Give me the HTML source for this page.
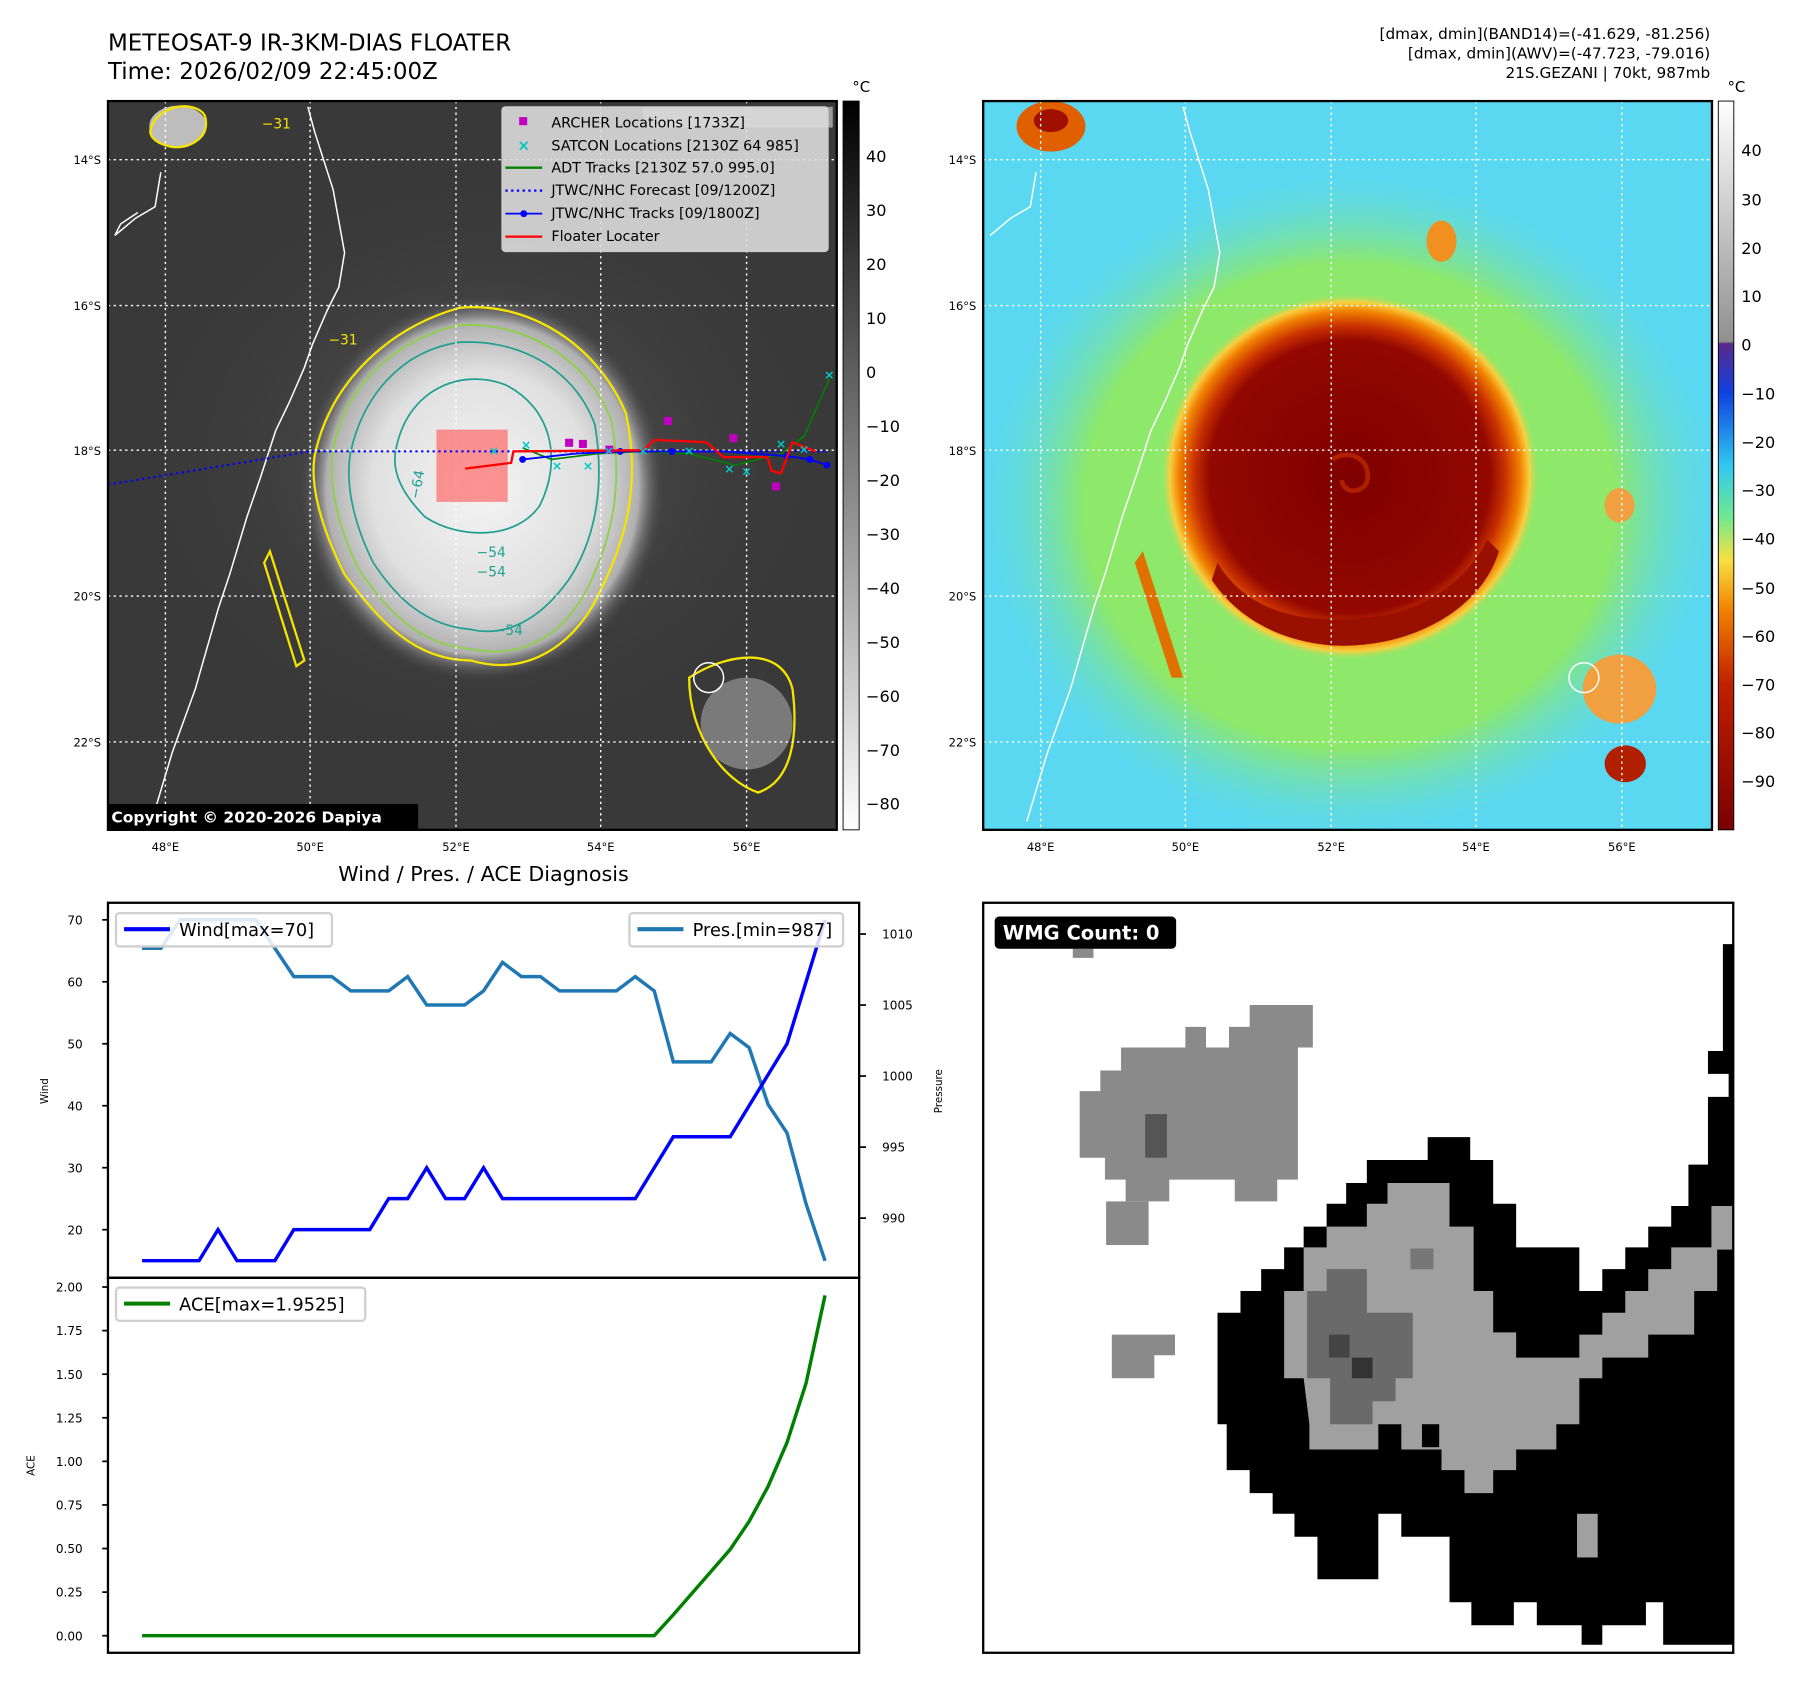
<!DOCTYPE html>
<html><head><meta charset="utf-8"><style>
html,body{margin:0;padding:0;background:#fff}
svg{display:block}
text{font-family:"DejaVu Sans","Liberation Sans",sans-serif}
</style></head><body>
<svg id="root" width="1801" height="1690" viewBox="0 0 1568 1471.4" preserveAspectRatio="none" xmlns="http://www.w3.org/2000/svg">
<defs>
<radialGradient id="cloud" cx="0.5" cy="0.5" r="0.5">
<stop offset="0" stop-color="#f4f4f4"/><stop offset="0.6" stop-color="#e0e0e0"/><stop offset="0.85" stop-color="#b0b0b0"/><stop offset="1" stop-color="#3a3a3a" stop-opacity="0"/></radialGradient>
<radialGradient id="haze" cx="0.5" cy="0.5" r="0.5">
<stop offset="0" stop-color="#5e5e5e"/><stop offset="1" stop-color="#3a3a3a" stop-opacity="0"/></radialGradient>
<radialGradient id="core" cx="0.5" cy="0.5" r="0.5">
<stop offset="0" stop-color="#7e0000"/><stop offset="0.74" stop-color="#930800"/><stop offset="0.82" stop-color="#c83000"/><stop offset="0.9" stop-color="#f08000"/><stop offset="0.95" stop-color="#f8d040"/><stop offset="1" stop-color="#90e870" stop-opacity="0"/></radialGradient>
<radialGradient id="ring" cx="0.5" cy="0.5" r="0.5">
<stop offset="0" stop-color="#8ee86a"/><stop offset="0.7" stop-color="#8ee86a"/><stop offset="1" stop-color="#5ad8f2" stop-opacity="0"/></radialGradient>
<linearGradient id="cb1" x1="0" y1="0" x2="0" y2="1"><stop offset="0" stop-color="#000"/><stop offset="1" stop-color="#fff"/></linearGradient>
<linearGradient id="cb2" x1="0" y1="0" x2="0" y2="1">
<stop offset="0" stop-color="#ffffff"/><stop offset="0.33" stop-color="#909090"/><stop offset="0.333" stop-color="#5a2a8a"/><stop offset="0.4" stop-color="#1040e0"/><stop offset="0.5" stop-color="#30c8f0"/><stop offset="0.57" stop-color="#70e890"/><stop offset="0.63" stop-color="#f8e040"/><stop offset="0.7" stop-color="#f08000"/><stop offset="0.8" stop-color="#c02000"/><stop offset="1" stop-color="#7a0000"/></linearGradient>
<clipPath id="clipTL"><rect x="94" y="88" width="634.5" height="634.5"/></clipPath>
<clipPath id="clipTR"><rect x="856" y="88" width="634.5" height="634.5"/></clipPath>
</defs>

<text x="94" y="44" font-size="20">METEOSAT-9 IR-3KM-DIAS FLOATER</text>
<text x="94" y="69" font-size="20">Time: 2026/02/09 22:45:00Z</text>
<g font-size="13.3" text-anchor="end">
<text x="1489" y="34">[dmax, dmin](BAND14)=(-41.629, -81.256)</text>
<text x="1489" y="51">[dmax, dmin](AWV)=(-47.723, -79.016)</text>
<text x="1489" y="68">21S.GEZANI | 70kt, 987mb</text>
</g>

<g clip-path="url(#clipTL)">
<rect x="94" y="88" width="634.5" height="634.5" fill="#393939"/>
<ellipse cx="420" cy="400" rx="300" ry="250" fill="url(#haze)"/>
<ellipse cx="420" cy="425" rx="160" ry="170" fill="url(#cloud)"/>
<ellipse cx="155" cy="110" rx="25" ry="18" fill="#bdbdbd"/>
<ellipse cx="650" cy="630" rx="40" ry="40" fill="#7a7a7a"/>
<path d="M275,392 C290,330 340,285 400,268 C460,262 520,300 545,360 C560,430 540,480 520,520 C500,560 460,590 410,575 C360,575 330,540 300,500 C280,460 268,420 275,392 Z M235,480 L265,575 L258,580 L230,490 Z" fill="none" stroke="#f5e400" stroke-width="2"/>
<path d="M290,392 C300,335 345,295 400,283 C455,280 510,310 532,365 C545,430 528,480 510,515 C490,552 455,575 410,565 C365,562 335,530 312,495 C295,460 285,420 290,392 Z" fill="none" stroke="#8ed04a" stroke-width="1.6"/>
<path d="M305,395 C315,345 350,305 400,298 C450,295 500,320 518,370 C528,430 515,475 495,505 C470,540 440,555 410,548 C370,545 345,520 325,490 C310,460 300,425 305,395 Z M345,390 C355,340 400,320 440,335 C480,355 490,400 470,440 C450,470 400,470 370,450 C350,430 340,410 345,390 Z" fill="none" stroke="#20a090" stroke-width="1.5"/>
<path d="M132,110 C140,90 170,88 178,100 C184,115 170,130 150,128 C135,125 128,118 132,110 Z M600,590 C630,570 680,560 690,600 C695,640 690,680 660,690 C630,680 600,640 600,590 Z" fill="none" stroke="#f5e400" stroke-width="2"/>
<path d="M268,93 L274,115 L290,165 L300,220 L295,250 L285,270 L272,300 L265,320 L252,350 L240,375 L227,415 L215,450 L200,500 L190,530 L170,600 L150,655 L132,715 M140,150 L135,180 L118,190 L100,205 L105,195 L120,185" fill="none" stroke="#fff" stroke-width="1.3"/>
<circle cx="617" cy="590" r="13" fill="none" stroke="#fff" stroke-width="1.3"/>
<g stroke="#fff" stroke-width="1.2" stroke-dasharray="2,3">
<line x1="144" y1="88" x2="144" y2="723"/><line x1="270" y1="88" x2="270" y2="723"/><line x1="397" y1="88" x2="397" y2="723"/><line x1="523" y1="88" x2="523" y2="723"/><line x1="650" y1="88" x2="650" y2="723"/>
<line x1="94" y1="139" x2="728" y2="139"/><line x1="94" y1="266" x2="728" y2="266"/><line x1="94" y1="392" x2="728" y2="392"/><line x1="94" y1="519" x2="728" y2="519"/><line x1="94" y1="646" x2="728" y2="646"/>
</g>
<rect x="380" y="374" width="62" height="63" fill="#ff6060" fill-opacity="0.65"/>
<polyline points="94,422 270,393 720,393" fill="none" stroke="#0000ff" stroke-width="1.8" stroke-dasharray="2,3"/>
<polyline points="455,390 480,400 520,395 560,393 600,395 640,405 680,395 700,380 722,330" fill="none" stroke="#008000" stroke-width="1.4"/>
<polyline points="455,400 500,395 540,393 585,393 630,393 685,397 705,400 720,405" fill="none" stroke="#0000ff" stroke-width="1.6"/>
<g fill="#0000ff"><circle cx="455" cy="400" r="3"/><circle cx="540" cy="393" r="3"/><circle cx="585" cy="393" r="3"/><circle cx="685" cy="397" r="3"/><circle cx="705" cy="400" r="3"/><circle cx="720" cy="405" r="3"/></g>
<polyline points="405,408 445,403 447,393 560,392 570,383 615,385 630,398 668,398 672,410 680,412 690,385 710,393" fill="none" stroke="#ff0000" stroke-width="2"/>
<g fill="#c000c0"><rect x="492" y="382" width="7" height="7"/><rect x="504" y="383" width="7" height="7"/><rect x="578" y="363" width="7" height="7"/><rect x="527" y="388" width="7" height="7"/><rect x="635" y="378" width="7" height="7"/><rect x="672" y="420" width="7" height="7"/></g>
<g fill="#00c8c8" font-size="11" font-weight="bold" text-anchor="middle"><text x="430" y="396">×</text><text x="458" y="391">×</text><text x="485" y="409">×</text><text x="512" y="409">×</text><text x="530" y="396">×</text><text x="560" y="396">×</text><text x="600" y="396">×</text><text x="635" y="412">×</text><text x="650" y="414">×</text><text x="680" y="390">×</text><text x="700" y="395">×</text><text x="722" y="330">×</text></g>
<g font-size="12"><text x="228" y="112" fill="#f5e400">−31</text><text x="286" y="300" fill="#f5e400">−31</text><text x="415" y="485" fill="#20a090">−54</text><text x="415" y="502" fill="#20a090">−54</text><text x="430" y="553" fill="#20a090">−54</text><text x="365" y="435" fill="#20a090" transform="rotate(-80 365 435)">−64</text></g>
<rect x="560" y="93" width="165" height="18" fill="#fff" fill-opacity="0.5"/>
</g>
<rect x="94" y="88" width="634.5" height="634.5" fill="none" stroke="#000" stroke-width="2"/>
<g>
<rect x="437" y="93" width="284" height="126" rx="3" fill="#dcdcdc" fill-opacity="0.9" stroke="#ccc"/>
<g font-size="12.5">
<rect x="452" y="102" width="7" height="7" fill="#c000c0"/><text x="480" y="111">ARCHER Locations [1733Z]</text>
<text x="456" y="131" fill="#00c8c8" font-size="13" font-weight="bold" text-anchor="middle">×</text><text x="480" y="131">SATCON Locations [2130Z 64 985]</text>
<line x1="440" y1="146" x2="472" y2="146" stroke="#008000" stroke-width="2"/><text x="480" y="150">ADT Tracks [2130Z 57.0 995.0]</text>
<line x1="440" y1="166" x2="472" y2="166" stroke="#0000ff" stroke-width="2" stroke-dasharray="2,3"/><text x="480" y="170">JTWC/NHC Forecast [09/1200Z]</text>
<line x1="440" y1="186" x2="472" y2="186" stroke="#0000ff" stroke-width="1.6"/><circle cx="456" cy="186" r="3" fill="#0000ff"/><text x="480" y="190">JTWC/NHC Tracks [09/1800Z]</text>
<line x1="440" y1="206" x2="472" y2="206" stroke="#ff0000" stroke-width="2"/><text x="480" y="210">Floater Locater</text>
</g></g>
<g><rect x="94" y="700" width="270" height="22" fill="#000"/><text x="97" y="716" font-size="13.5" font-weight="bold" fill="#fff">Copyright © 2020-2026 Dapiya</text></g>

<g font-size="10" fill="#000">
<text x="144" y="741" text-anchor="middle">48°E</text><text x="270" y="741" text-anchor="middle">50°E</text><text x="397" y="741" text-anchor="middle">52°E</text><text x="523" y="741" text-anchor="middle">54°E</text><text x="650" y="741" text-anchor="middle">56°E</text>
<text x="88" y="143" text-anchor="end">14°S</text><text x="88" y="270" text-anchor="end">16°S</text><text x="88" y="396" text-anchor="end">18°S</text><text x="88" y="523" text-anchor="end">20°S</text><text x="88" y="650" text-anchor="end">22°S</text>
</g>
<g>
<rect x="734" y="88" width="14" height="634.5" fill="url(#cb1)" stroke="#000" stroke-width="0.8"/>
<text x="742" y="80" font-size="13">°C</text>
<g font-size="14"><text x="754" y="141">40</text><text x="754" y="188">30</text><text x="754" y="235">20</text><text x="754" y="282">10</text><text x="754" y="329">0</text><text x="754" y="376">−10</text><text x="754" y="423">−20</text><text x="754" y="470">−30</text><text x="754" y="517">−40</text><text x="754" y="564">−50</text><text x="754" y="611">−60</text><text x="754" y="658">−70</text><text x="754" y="705">−80</text></g>
</g>

<g clip-path="url(#clipTR)">
<rect x="856" y="88" width="634.5" height="634.5" fill="#5ad8f2"/>
<ellipse cx="1175" cy="440" rx="330" ry="300" fill="url(#ring)"/>
<ellipse cx="1175" cy="415" rx="165" ry="160" fill="url(#core)"/>
<path d="M1060,490 C1090,540 1150,545 1210,535 C1250,525 1280,500 1295,470 L1305,480 C1290,530 1230,565 1160,562 C1110,558 1075,535 1055,505 Z" fill="#9a1000"/>
<path d="M1160,400 C1175,390 1195,400 1190,420 C1185,430 1170,430 1168,418" fill="none" stroke="#b02000" stroke-width="4"/>
<path d="M995,480 L1030,590 L1020,590 L988,490 Z" fill="#e07000"/>
<ellipse cx="915" cy="110" rx="30" ry="22" fill="#e06000"/><ellipse cx="915" cy="105" rx="15" ry="10" fill="#a01000"/>
<ellipse cx="1410" cy="600" rx="32" ry="30" fill="#f0a040"/><ellipse cx="1415" cy="665" rx="18" ry="16" fill="#b02000"/>
<ellipse cx="1255" cy="210" rx="13" ry="18" fill="#f09020"/>
<ellipse cx="1410" cy="440" rx="13" ry="15" fill="#f0a040"/>
<path d="M1030,93 L1036,115 L1052,165 L1062,220 L1057,250 L1047,270 L1034,300 L1027,320 L1014,350 L1002,375 L989,415 L977,450 L962,500 L952,530 L932,600 L912,655 L894,715 M902,150 L897,180 L880,190 L862,205" fill="none" stroke="#fff" stroke-width="1.3"/>
<circle cx="1379" cy="590" r="13" fill="none" stroke="#fff" stroke-width="1.3"/>
<g stroke="#fff" stroke-width="1.2" stroke-dasharray="2,3">
<line x1="906" y1="88" x2="906" y2="723"/><line x1="1032" y1="88" x2="1032" y2="723"/><line x1="1159" y1="88" x2="1159" y2="723"/><line x1="1285" y1="88" x2="1285" y2="723"/><line x1="1412" y1="88" x2="1412" y2="723"/>
<line x1="856" y1="139" x2="1490" y2="139"/><line x1="856" y1="266" x2="1490" y2="266"/><line x1="856" y1="392" x2="1490" y2="392"/><line x1="856" y1="519" x2="1490" y2="519"/><line x1="856" y1="646" x2="1490" y2="646"/>
</g>
</g>
<rect x="856" y="88" width="634.5" height="634.5" fill="none" stroke="#000" stroke-width="2"/>
<g font-size="10" fill="#000">
<text x="906" y="741" text-anchor="middle">48°E</text><text x="1032" y="741" text-anchor="middle">50°E</text><text x="1159" y="741" text-anchor="middle">52°E</text><text x="1285" y="741" text-anchor="middle">54°E</text><text x="1412" y="741" text-anchor="middle">56°E</text>
<text x="850" y="143" text-anchor="end">14°S</text><text x="850" y="270" text-anchor="end">16°S</text><text x="850" y="396" text-anchor="end">18°S</text><text x="850" y="523" text-anchor="end">20°S</text><text x="850" y="650" text-anchor="end">22°S</text>
</g>
<g>
<rect x="1496" y="88" width="13.5" height="634.5" fill="url(#cb2)" stroke="#000" stroke-width="0.8"/>
<text x="1504" y="80" font-size="13">°C</text>
<g font-size="14"><text x="1516" y="136">40</text><text x="1516" y="179">30</text><text x="1516" y="221">20</text><text x="1516" y="263">10</text><text x="1516" y="305">0</text><text x="1516" y="348">−10</text><text x="1516" y="390">−20</text><text x="1516" y="432">−30</text><text x="1516" y="474">−40</text><text x="1516" y="517">−50</text><text x="1516" y="559">−60</text><text x="1516" y="601">−70</text><text x="1516" y="643">−80</text><text x="1516" y="685">−90</text></g>
</g>

<text x="421" y="767" font-size="18" text-anchor="middle">Wind / Pres. / ACE Diagnosis</text>
<g id="chart"></g>

<g>
<rect x="856" y="786" width="653" height="653" fill="#fff"/>
<path fill="#000" d="M1243,990 L1280,990 L1280,1010 L1300,1010 L1300,1048 L1320,1048 L1320,1086 L1375,1086 L1375,1124 L1395,1124 L1395,1105 L1415,1105 L1415,1086 L1435,1086 L1435,1068 L1455,1068 L1455,1050 L1470,1050 L1470,1014 L1487,1014 L1487,955 L1505,955 L1505,935 L1487,935 L1487,915 L1500,915 L1500,822 L1509,822 L1509,1432 L1448,1432 L1448,1395 L1433,1395 L1433,1415 L1395,1415 L1395,1432 L1377,1432 L1377,1415 L1338,1415 L1338,1395 L1318,1395 L1318,1415 L1281,1415 L1281,1395 L1262,1395 L1262,1338 L1220,1338 L1220,1318 L1200,1318 L1200,1375 L1147,1375 L1147,1338 L1127,1338 L1127,1318 L1108,1318 L1108,1300 L1088,1300 L1088,1280 L1068,1280 L1068,1240 L1060,1240 L1060,1143 L1080,1143 L1080,1124 L1098,1124 L1098,1105 L1118,1105 L1118,1086 L1135,1086 L1135,1068 L1155,1068 L1155,1048 L1172,1048 L1172,1030 L1190,1030 L1190,1010 L1243,1010 Z"/>
<path fill="#a0a0a0" d="M1208,1030 L1262,1030 L1262,1068 L1283,1068 L1283,1124 L1300,1124 L1300,1160 L1320,1160 L1320,1182 L1375,1182 L1375,1162 L1395,1162 L1395,1143 L1415,1143 L1415,1124 L1435,1124 L1435,1105 L1455,1105 L1455,1086 L1490,1086 L1490,1050 L1509,1050 L1509,1088 L1495,1088 L1495,1124 L1475,1124 L1475,1162 L1435,1162 L1435,1182 L1395,1182 L1395,1200 L1375,1200 L1375,1240 L1355,1240 L1355,1262 L1320,1262 L1320,1280 L1300,1280 L1300,1300 L1275,1300 L1275,1280 L1255,1280 L1255,1262 L1220,1262 L1220,1240 L1200,1240 L1200,1262 L1140,1262 L1140,1240 L1135,1200 L1118,1200 L1118,1124 L1135,1124 L1135,1086 L1155,1086 L1155,1068 L1190,1068 L1190,1048 L1208,1048 Z"/>
<path fill="#6a6a6a" d="M1155,1105 L1190,1105 L1190,1143 L1230,1143 L1230,1200 L1215,1200 L1215,1220 L1195,1220 L1195,1240 L1158,1240 L1158,1200 L1138,1200 L1138,1124 L1155,1124 Z"/>
<rect x="1157" y="1162" width="18" height="20" fill="#444"/><rect x="1177" y="1182" width="18" height="18" fill="#333"/>
<rect x="1228" y="1087" width="20" height="18" fill="#777"/><rect x="1238" y="1240" width="15" height="20" fill="#000"/>
<rect x="1373" y="1318" width="18" height="38" fill="#a0a0a0"/>
<path fill="#8a8a8a" d="M1088,875 L1143,875 L1143,912 L1130,912 L1130,1027 L1112,1027 L1112,1046 L1075,1046 L1075,1027 L1018,1027 L1018,1046 L980,1046 L980,1027 L962,1027 L962,1008 L940,1008 L940,950 L958,950 L958,932 L976,932 L976,912 L1032,912 L1032,894 L1050,894 L1050,912 L1070,912 L1070,894 L1088,894 Z"/>
<rect x="997" y="970" width="19" height="38" fill="#555"/>
<rect x="963" y="1046" width="37" height="38" fill="#8a8a8a"/>
<path fill="#8a8a8a" d="M968,1162 L1023,1162 L1023,1180 L1005,1180 L1005,1200 L968,1200 Z"/>
<rect x="934" y="826" width="18" height="8" fill="#8a8a8a"/>
<rect x="856" y="786" width="653" height="653" fill="none" stroke="#000" stroke-width="2"/>
<rect x="866" y="798" width="158" height="28" rx="4" fill="#000"/>
<text x="873" y="818" font-size="17" font-weight="bold" fill="#fff">WMG Count: 0</text>
</g>
</svg>
<script>
const wind = [15,15,15,15,20,15,15,15,20,20,20,20,20,25,25,30,25,25,30,25,25,25,25,25,25,25,25,30,35,35,35,35,40,45,50,60,70];
const pres = [1009,1009,1011,1011,1011,1011,1011,1009,1007,1007,1007,1006,1006,1006,1007,1005,1005,1005,1006,1008,1007,1007,1006,1006,1006,1006,1007,1006,1001,1001,1001,1003,1002,998,996,991,987];
const ace = [0,0,0,0,0,0,0,0,0,0,0,0,0,0,0,0,0,0,0,0,0,0,0,0,0,0,0,0,0.12,0.245,0.37,0.495,0.655,0.856,1.108,1.449,1.9525];
const windTicks = [20,30,40,50,60,70];
const presTicks = [990,995,1000,1005,1010];
const aceTicks = ["0.00","0.25","0.50","0.75","1.00","1.25","1.50","1.75","2.00"];

const NS='http://www.w3.org/2000/svg';
const g=document.getElementById('chart');
const L=94,R=748,T1=786,B1=1112.5,T2=1112.5,B2=1439;
const n=wind.length;
function xs(i){return L+(i+1.8)/(n-1+3.6)*(R-L);}
function yWind(v){return T1+(72.75-v)/60.51*(B1-T1);}
function yPres(p){return T1+(1012.2-p)/26.4*(B1-T1);}
function yAce(a){return T2+(2.053-a)/2.151*(B2-T2);}
function mk(tag,attrs,parent){const e=document.createElementNS(NS,tag);for(const k in attrs)e.setAttribute(k,attrs[k]);(parent||g).appendChild(e);return e;}
function pts(arr,f){return arr.map((v,i)=>xs(i).toFixed(1)+','+f(v).toFixed(1)).join(' ');}

let e;
e=mk('rect',{x:L,y:T1,width:R-L,height:B2-T1,fill:'#fff'});



e=mk('polyline',{points:pts(pres,yPres),fill:'none',stroke:'#1f77b4','stroke-width':3});


e=mk('polyline',{points:pts(wind,yWind),fill:'none',stroke:'#0000ff','stroke-width':3});


e=mk('polyline',{points:pts(ace.map(Number),yAce),fill:'none',stroke:'#008000','stroke-width':3});



windTicks.forEach(v=>{const y=yWind(v);
 e=mk('line',{x1:L-5,y1:y,x2:L,y2:y,stroke:'#000','stroke-width':1.5});
 
 
 e=mk('text',{x:L-22,y:y+4,'font-size':10.5,'text-anchor':'end'});e.textContent=v;
 
 
});
presTicks.forEach(v=>{const y=yPres(v);
 e=mk('line',{x1:R,y1:y,x2:R+6,y2:y,stroke:'#000','stroke-width':1.5});
 
 
 e=mk('text',{x:R+20,y:y+4,'font-size':10.5});e.textContent=v;
 
 
});
aceTicks.forEach(s=>{const y=yAce(parseFloat(s));
 e=mk('line',{x1:L-5,y1:y,x2:L,y2:y,stroke:'#000','stroke-width':1.5});
 
 
 e=mk('text',{x:L-22,y:y+4,'font-size':10.5,'text-anchor':'end'});e.textContent=s;
 
 
});

e=mk('rect',{x:L,y:T1,width:R-L,height:B1-T1,fill:'none',stroke:'#000','stroke-width':2});


e=mk('rect',{x:L,y:T2,width:R-L,height:B2-T2,fill:'none',stroke:'#000','stroke-width':2});



e=mk('text',{x:42,y:950,'font-size':9,'text-anchor':'middle',transform:'rotate(-90 42 950)'});e.textContent='Wind';


e=mk('text',{x:820,y:950,'font-size':9,'text-anchor':'middle',transform:'rotate(-90 820 950)'});e.textContent='Pressure';


e=mk('text',{x:30,y:1276,'font-size':9,'text-anchor':'middle',transform:'rotate(-90 30 1276)'});e.textContent='ACE';



function legend(x,y,w,color,label,name){
 const lg=mk('g',{});
 
 
 mk('rect',{x:x,y:y,width:w,height:29,rx:3,fill:'#fff','fill-opacity':0.85,stroke:'#d0d0d0','stroke-width':2},lg);
 mk('line',{x1:x+7,y1:y+14,x2:x+47,y2:y+14,stroke:color,'stroke-width':3.5},lg);
 const t=mk('text',{x:x+55,y:y+20,'font-size':15.5},lg);t.textContent=label;
}
legend(101,795,188,'#0000ff','Wind[max=70]','wind-legend');
legend(548,795,186,'#1f77b4','Pres.[min=987]','pressure-legend');
legend(101,1121,217,'#008000','ACE[max=1.9525]','ace-legend');
</script>
</body></html>
